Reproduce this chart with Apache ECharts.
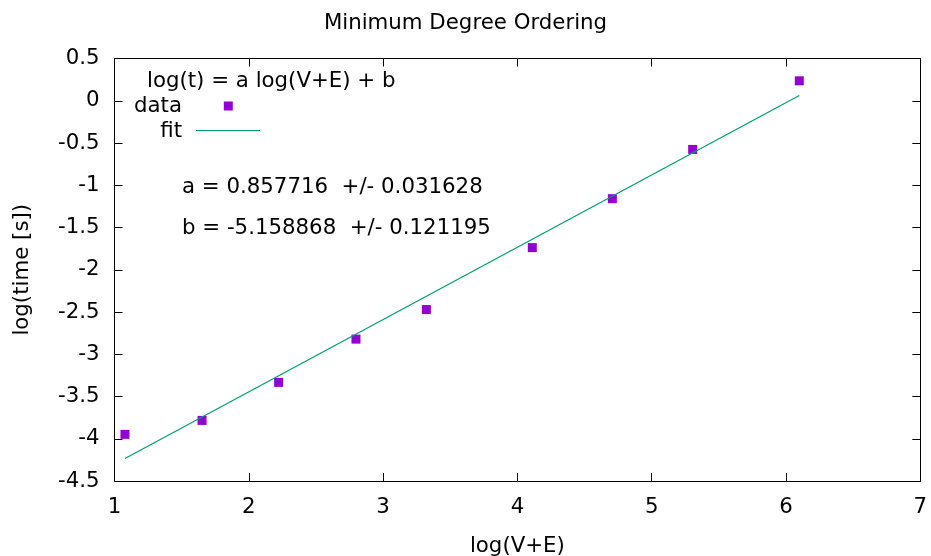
<!DOCTYPE html>
<html>
<head>
<meta charset="utf-8">
<script src="https://cdn.jsdelivr.net/npm/echarts@6/dist/echarts.min.js"></script>
<style>
html,body{margin:0;padding:0;background:#fff;}
#chart{width:931px;height:556px;}
</style>
</head>
<body>
<div id="chart"></div>
<script>
// Data
var logVE   = [1.078, 1.652, 2.222, 2.798, 3.322, 4.111, 4.707, 5.305, 6.099];
var logTime = [-3.948, -3.783, -3.333, -2.821, -2.471, -1.738, -1.159, -0.576, 0.236];
// fit line endpoints (as drawn)
var fitX = [1.078, 6.099];
var fitY = [-4.234, 0.063];
var titleText = 'Minimum Degree Ordering';
var xName = 'log(V+E)';
var yName = 'log(time [s])';
var keyTitle = 'log(t) = a log(V+E) + b';
var seriesNames = ['data', 'fit'];
var fitA = 'a = 0.857716  +/- 0.031628';
var fitB = 'b = -5.158868  +/- 0.121195';

var FONT = 'DejaVu Sans';
var FS = 21.3;

var scatterData = logVE.map(function (x, i) { return [x, logTime[i]]; });
var fitData = fitX.map(function (x, i) { return [x, fitY[i]]; });

var chart = echarts.init(document.getElementById('chart'), null, {renderer: 'canvas'});

var axisLine = {show: true, onZero: false, lineStyle: {color: '#000', width: 1}};
var tick = {show: true, inside: true, length: 8, lineStyle: {color: '#000', width: 1}};
var lbl = {color: '#000', fontFamily: FONT, fontSize: FS};

chart.setOption({
  backgroundColor: '#fff',
  animation: false,
  title: {
    text: titleText, left: 'center', top: 8,
    textStyle: {fontFamily: FONT, fontSize: FS, fontWeight: 'normal', color: '#000'}
  },
  grid: {left: 114.5, right: 10.7, top: 58.5, bottom: 75, show: false, containLabel: false, outerBoundsMode: 'none'},
  xAxis: [{
    type: 'value', min: 1, max: 7, interval: 1, position: 'bottom',
    axisLine: axisLine, axisTick: tick, splitLine: {show: false},
    axisLabel: Object.assign({margin: 16}, lbl),
    name: xName, nameLocation: 'middle', nameGap: 55,
    nameTextStyle: {fontFamily: FONT, fontSize: FS, color: '#000'}
  }, {
    type: 'value', min: 1, max: 7, interval: 1, position: 'top',
    axisLine: axisLine, axisTick: tick, splitLine: {show: false},
    axisLabel: {show: false}
  }],
  yAxis: [{
    type: 'value', min: -4.5, max: 0.5, interval: 0.5, position: 'left',
    axisLine: axisLine, axisTick: tick, splitLine: {show: false},
    axisLabel: Object.assign({margin: 15}, lbl),
    name: yName, nameLocation: 'middle', nameGap: 82, nameRotate: 90,
    nameTextStyle: {fontFamily: FONT, fontSize: FS, color: '#000'}
  }, {
    type: 'value', min: -4.5, max: 0.5, interval: 0.5, position: 'right',
    axisLine: axisLine, axisTick: tick, splitLine: {show: false},
    axisLabel: {show: false}
  }],
  series: [{
    name: seriesNames[0], type: 'scatter', xAxisIndex: 0, yAxisIndex: 0,
    data: scatterData, symbol: 'rect', symbolSize: 9,
    itemStyle: {color: '#9400d3', opacity: 1}
  }, {
    name: seriesNames[1], type: 'line', xAxisIndex: 0, yAxisIndex: 0,
    data: fitData, showSymbol: false, symbol: 'none',
    lineStyle: {color: '#009e73', width: 1.2}
  }],
  graphic: [
    {type: 'text', x: 147, y: 81, style: {text: keyTitle, fontFamily: FONT, fontSize: FS, fill: '#000', textVerticalAlign: 'middle'}},
    {type: 'text', x: 182, y: 106, style: {text: seriesNames[0], fontFamily: FONT, fontSize: FS, fill: '#000', textAlign: 'right', textVerticalAlign: 'middle'}},
    {type: 'rect', shape: {x: 223.8, y: 101.5, width: 9, height: 9}, style: {fill: '#9400d3'}},
    {type: 'text', x: 182, y: 131, style: {text: seriesNames[1], fontFamily: FONT, fontSize: FS, fill: '#000', textAlign: 'right', textVerticalAlign: 'middle'}},
    {type: 'line', shape: {x1: 196, y1: 130.5, x2: 260, y2: 130.5}, style: {stroke: '#009e73', lineWidth: 1.2}},
    {type: 'text', x: 182, y: 187, style: {text: fitA, fontFamily: FONT, fontSize: FS, fill: '#000', textVerticalAlign: 'middle'}},
    {type: 'text', x: 182, y: 228, style: {text: fitB, fontFamily: FONT, fontSize: FS, fill: '#000', textVerticalAlign: 'middle'}}
  ]
});
</script>
</body>
</html>
